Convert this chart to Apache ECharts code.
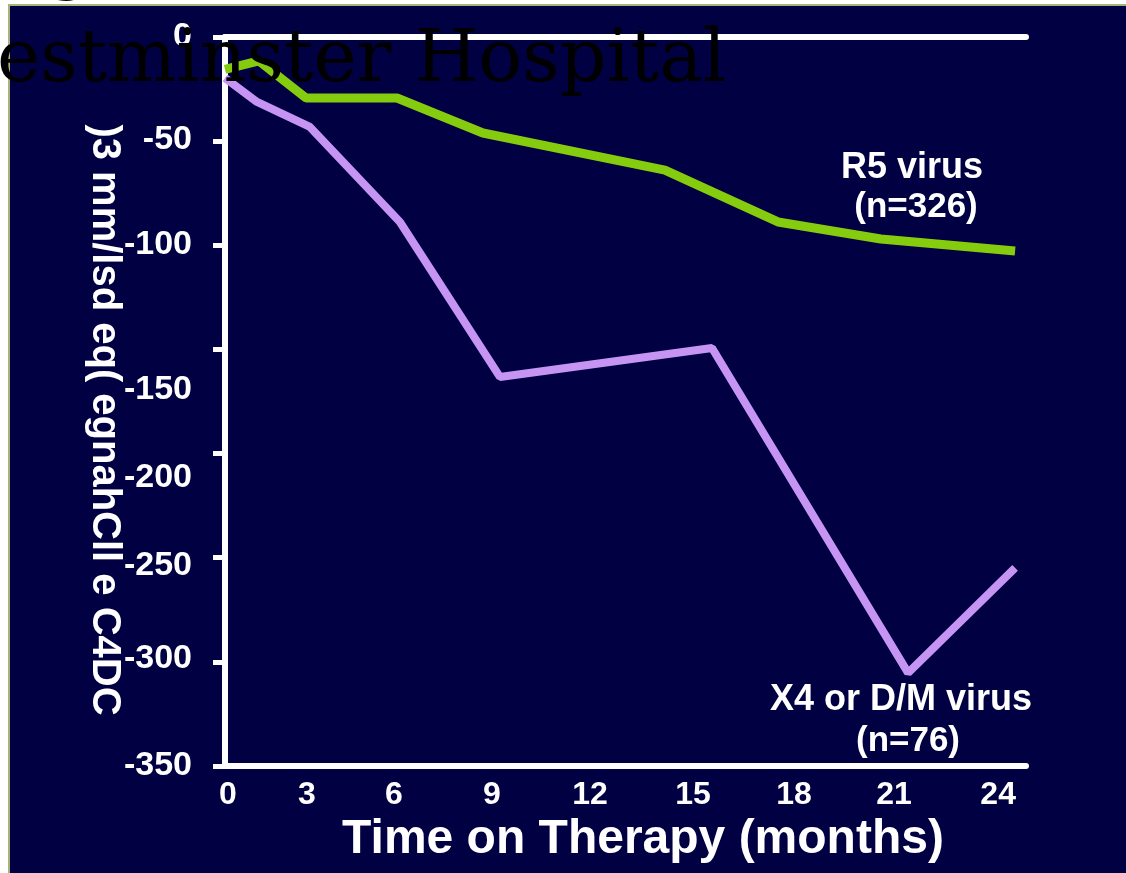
<!DOCTYPE html>
<html>
<head>
<meta charset="utf-8">
<script src="https://cdn.jsdelivr.net/npm/echarts@6/dist/echarts.min.js"></script>
<style>
  html, body { margin: 0; padding: 0; background: #fff; }
  #chart { width: 1126px; height: 873px; }
</style>
</head>
<body>
<div id="chart"></div>
<script>
// values (months on therapy, CD4 change)
const r5Months = [0, 1.06, 2.53, 5.37, 8.05, 13.73, 17.26, 20.47, 24.66];
const r5Change = [-15.5, -11.5, -29.3, -29.3, -46.1, -63.9, -88.8, -97.0, -102.7];

const x4Months = [0, 1.0, 2.65, 5.46, 8.58, 15.2, 21.32, 24.66];
const x4Change = [-19.7, -31.2, -43.2, -88.8, -163.2, -149.3, -305.3, -254.9];

// tick labels, and where the slide puts them (they drift off the ticks)
const xTickLabels = ['0', '3', '6', '9', '12', '15', '18', '21', '24'];
const xLabelAt = [0.09, 2.56, 5.27, 8.33, 11.39, 14.61, 17.76, 20.88, 24.13];
const yTickLabels = ['0', '-50', '-100', '-150', '-200', '-250', '-300', '-350'];
const yLabelAt = [0, -49.4, -99.9, -169.5, -211.7, -254, -298.6, -350];
const yTicks = [0, -50, -100, -150, -200, -250, -300, -350];

const FONT = "'Liberation Sans', Arial, sans-serif";
const NAVY = '#000042';

const chart = echarts.init(document.getElementById('chart'));

const pairs = (xs, ys) => xs.map((x, i) => [x, ys[i]]);

const option = {
  backgroundColor: NAVY,
  animation: false,
  grid: { left: 225, right: 100, top: 37, bottom: 107, containLabel: false },
  xAxis: [
    {
      type: 'value',
      min: 0,
      max: 25,
      position: 'bottom',
      axisLine: { onZero: false, lineStyle: { color: '#fff', width: 6 } },
      axisTick: { show: false },
      splitLine: { show: false },
      axisLabel: {
        customValues: xLabelAt,
        formatter: v => xTickLabels[xLabelAt.indexOf(v)],
        color: '#fff',
        fontFamily: FONT,
        fontWeight: 'bold',
        fontSize: 32,
        margin: 13
      },
      name: 'Time on Therapy (months)',
      nameLocation: 'middle',
      nameGap: 47,
      nameTextStyle: {
        color: '#fff',
        fontFamily: FONT,
        fontWeight: 'bold',
        fontSize: 48,
        padding: [0, 0, 0, 35]
      }
    },
    {
      // the white line along the top (zero)
      type: 'value',
      min: 0,
      max: 25,
      position: 'top',
      axisLine: { onZero: false, lineStyle: { color: '#fff', width: 6 } },
      axisTick: { show: false },
      axisLabel: { show: false },
      splitLine: { show: false }
    }
  ],
  yAxis: {
    type: 'value',
    min: -350,
    max: 0,
    interval: 50,
    axisLine: { onZero: false, lineStyle: { color: '#fff', width: 6 } },
    axisTick: {
      customValues: yTicks,
      length: 12,
      lineStyle: { color: '#fff', width: 5 }
    },
    splitLine: { show: false },
    axisLabel: {
      customValues: yLabelAt,
      formatter: v => yTickLabels[yLabelAt.indexOf(v)],
      color: '#fff',
      fontFamily: FONT,
      fontWeight: 'bold',
      fontSize: 34,
      margin: 33
    }
  },
  series: [
    {
      name: 'R5 virus',
      type: 'line',
      data: pairs(r5Months, r5Change),
      showSymbol: false,
      lineStyle: { color: '#86CC0E', width: 9 }
    },
    {
      name: 'X4 or D/M virus',
      type: 'line',
      data: pairs(x4Months, x4Change),
      showSymbol: false,
      lineStyle: { color: '#C695F4', width: 8 }
    }
  ],
  graphic: [
    // slide margin: white strip with khaki edge
    { type: 'rect', z: 50, shape: { x: 0, y: 0, width: 1126, height: 5 }, style: { fill: '#fff' } },
    { type: 'rect', z: 50, shape: { x: 0, y: 0, width: 9, height: 873 }, style: { fill: '#fff' } },
    { type: 'rect', z: 51, shape: { x: 9, y: 5, width: 1130, height: 880 }, style: { fill: null, stroke: '#aab27c', lineWidth: 2 } },
    // garbled y-axis title as on the slide
    {
      type: 'text', z: 60, x: 104, y: 420, rotation: -Math.PI / 2,
      style: {
        text: ')3 mm/lsd eq( egnahCll e C4DC',
        fill: '#fff', font: 'bold 40px ' + FONT,
        align: 'center', verticalAlign: 'middle'
      }
    },
    // series annotations
    { type: 'text', z: 60, x: 912, y: 168, style: { text: 'R5 virus', fill: '#fff', font: 'bold 36px ' + FONT, align: 'center', verticalAlign: 'middle' } },
    { type: 'text', z: 60, x: 916, y: 207, style: { text: '(n=326)', fill: '#fff', font: 'bold 35px ' + FONT, align: 'center', verticalAlign: 'middle' } },
    { type: 'text', z: 60, x: 901, y: 700, style: { text: 'X4 or D/M virus', fill: '#fff', font: 'bold 36px ' + FONT, align: 'center', verticalAlign: 'middle' } },
    { type: 'text', z: 60, x: 908, y: 741, style: { text: '(n=76)', fill: '#fff', font: 'bold 35px ' + FONT, align: 'center', verticalAlign: 'middle' } },
    // overlaid serif text from the slide behind
    { type: 'text', z: 100, x: 45, y: -35, style: { text: 'g', fill: '#000', font: "74px 'DejaVu Serif', serif", align: 'left', verticalAlign: 'middle' } },
    { type: 'text', z: 100, x: -3, y: 62, style: { text: 'estminster Hospital', fill: '#000', font: "73px 'DejaVu Serif', serif", align: 'left', verticalAlign: 'middle' } }
  ]
};

chart.setOption(option);
</script>
</body>
</html>
